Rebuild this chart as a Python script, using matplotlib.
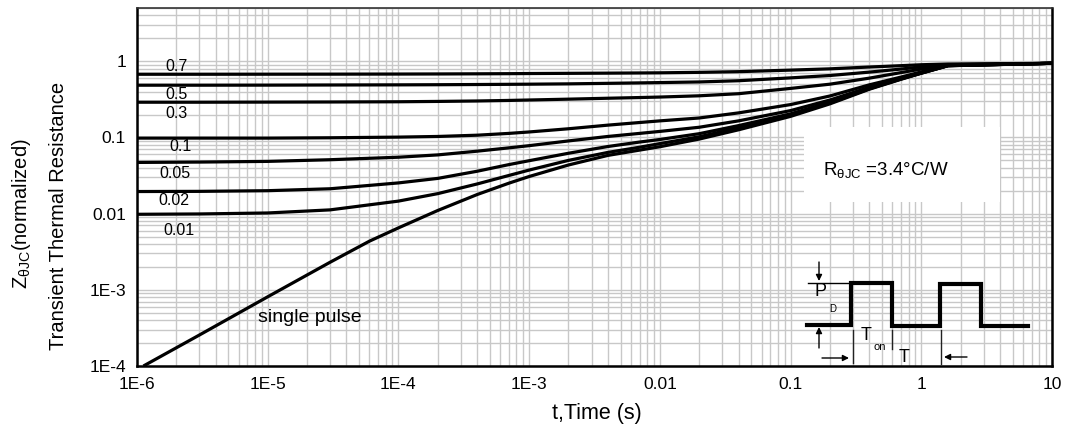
import numpy as np
import matplotlib
matplotlib.use('agg')
import matplotlib.pyplot as plt
from matplotlib.ticker import LogLocator, NullFormatter
from matplotlib.patches import Rectangle

plt.rcParams['font.family'] = ['Liberation Sans', 'DejaVu Sans']
plt.rcParams['mathtext.fontset'] = 'custom'
plt.rcParams['mathtext.rm'] = 'Liberation Sans'
plt.rcParams['mathtext.it'] = 'Liberation Sans:italic'

# pulse duration (s) where the duty-cycle curves were read
t_duty = [1e-6, 3e-6, 1e-5, 3e-5, 1e-4, 2e-4, 4e-4, 7e-4, 1e-3, 2e-3, 4e-3, 7e-3,
          1e-2, 2e-2, 4e-2, 0.1, 0.2, 0.4, 0.7, 1, 1.6, 10]

# normalized Zth for each duty cycle D
z_07 = [0.675, 0.675, 0.676, 0.677, 0.679, 0.681, 0.684, 0.687, 0.69, 0.694, 0.698, 0.702,
        0.705, 0.715, 0.73, 0.765, 0.795, 0.84, 0.875, 0.9, 0.92, 0.94]
z_05 = [0.485, 0.485, 0.486, 0.488, 0.49, 0.492, 0.495, 0.498, 0.50, 0.505, 0.513, 0.52,
        0.525, 0.535, 0.555, 0.605, 0.65, 0.72, 0.79, 0.845, 0.90, 0.94]
z_03 = [0.29, 0.29, 0.291, 0.292, 0.294, 0.297, 0.301, 0.306, 0.31, 0.318, 0.327, 0.334,
        0.339, 0.352, 0.375, 0.44, 0.50, 0.60, 0.71, 0.79, 0.89, 0.94]
z_01 = [0.098, 0.098, 0.098, 0.099, 0.101, 0.103, 0.107, 0.113, 0.118, 0.13, 0.145, 0.157,
        0.165, 0.18, 0.21, 0.27, 0.35, 0.49, 0.62, 0.725, 0.88, 0.94]
z_005 = [0.047, 0.0475, 0.0485, 0.051, 0.055, 0.059, 0.066, 0.073, 0.078, 0.09, 0.103, 0.113,
         0.12, 0.136, 0.165, 0.225, 0.31, 0.455, 0.60, 0.71, 0.878, 0.94]
z_002 = [0.0195, 0.0196, 0.020, 0.0212, 0.0253, 0.029, 0.036, 0.044, 0.0495, 0.062, 0.076, 0.087,
         0.094, 0.112, 0.143, 0.204, 0.29, 0.44, 0.59, 0.70, 0.876, 0.94]
z_001 = [0.0098, 0.0099, 0.0102, 0.0112, 0.0146, 0.0183, 0.0245, 0.0317, 0.0373, 0.050, 0.0636, 0.0744,
         0.083, 0.102, 0.134, 0.197, 0.283, 0.435, 0.585, 0.70, 0.875, 0.94]

# single pulse curve
t_single = [1.12e-6, 3e-6, 1e-5, 3e-5, 6e-5, 1e-4, 2e-4, 4e-4, 7e-4, 1e-3, 2e-3, 4e-3, 7e-3,
            1e-2, 2e-2, 4e-2, 0.1, 0.2, 0.4, 0.7, 1, 1.6, 10]
z_single = [1e-4, 2.55e-4, 8.1e-4, 2.3e-3, 4.35e-3, 6.5e-3, 0.011, 0.0178, 0.0251, 0.0307,
            0.0435, 0.0581, 0.0682, 0.0755, 0.0952, 0.126, 0.189, 0.276, 0.429, 0.58, 0.696,
            0.873, 0.94]

duty_curves = [z_07, z_05, z_03, z_01, z_005, z_002, z_001]
duty_names = ['0.7', '0.5', '0.3', '0.1', '0.05', '0.02', '0.01']
# label anchor positions (t, Z) as placed on the chart
duty_label_t = [2.0e-6, 2.0e-6, 2.0e-6, 2.15e-6, 1.95e-6, 1.9e-6, 2.1e-6]
duty_label_z = [0.86, 0.37, 0.207, 0.0764, 0.0337, 0.0149, 0.006]

x_ticks = [1e-6, 1e-5, 1e-4, 1e-3, 1e-2, 0.1, 1, 10]
x_ticklabels = ['1E-6', '1E-5', '1E-4', '1E-3', '0.01', '0.1', '1', '10']
y_ticks = [1e-4, 1e-3, 1e-2, 0.1, 1]
y_ticklabels = ['1E-4', '1E-3', '0.01', '0.1', '1']

W, H = 1071, 432
fig = plt.figure(figsize=(W / 100, H / 100), dpi=100)
ax = fig.add_axes([137 / W, 1 - 366 / H, (1052 - 137) / W, (366 - 8) / H])
ax.set_xscale('log')
ax.set_yscale('log')
ax.set_xlim(1e-6, 10)
ax.set_ylim(1e-4, 5)

ax.xaxis.set_minor_locator(LogLocator(base=10, subs=np.arange(2, 10), numticks=100))
ax.yaxis.set_minor_locator(LogLocator(base=10, subs=np.arange(2, 10), numticks=100))
ax.xaxis.set_minor_formatter(NullFormatter())
ax.yaxis.set_minor_formatter(NullFormatter())
ax.set_xticks(x_ticks)
ax.set_xticklabels(x_ticklabels)
ax.set_yticks(y_ticks)
ax.set_yticklabels(y_ticklabels)
ax.tick_params(which='both', length=0, labelsize=12.5, pad=8)
ax.set_axisbelow(True)
ax.grid(True, which='both', color='#c8c8c8', lw=1.0)

for sp in ['left', 'bottom', 'right']:
    ax.spines[sp].set_linewidth(1.8)
    ax.spines[sp].set_color('black')
ax.spines['top'].set_linewidth(1.2)
ax.spines['top'].set_color('#333333')

for z in duty_curves:
    ax.plot(t_duty, z, color='black', lw=2.3, solid_capstyle='butt', solid_joinstyle='round')
ax.plot(t_single, z_single, color='black', lw=2.3, solid_capstyle='butt', solid_joinstyle='round')

for name, lt, lz in zip(duty_names, duty_label_t, duty_label_z):
    ax.text(lt, lz, name, fontsize=11.5, ha='center', va='center')
ax.text(2.1e-5, 4.3e-4, 'single pulse', fontsize=14, ha='center', va='center')

# R theta box
ax.add_patch(Rectangle((0.729, 0.458), 0.214, 0.21, transform=ax.transAxes,
                       facecolor='white', edgecolor='none', zorder=1))
ax.text(0.75, 0.548, r'R$_{\mathregular{θJC}}$ =3.4°C/W', transform=ax.transAxes,
        fontsize=13.5, ha='left', va='center', zorder=3)

# axis labels
fig.text(597 / W, 1 - 413 / H, 't,Time (s)', fontsize=15.5, ha='center', va='center')
fig.text(22 / W, 1 - 214 / H, r'Z$_{\mathregular{θJC}}$(normalized)', fontsize=14.5,
         rotation=90, ha='center', va='center')
fig.text(59 / W, 1 - 216 / H, 'Transient Thermal Resistance', fontsize=14.5,
         rotation=90, ha='center', va='center')

# pulse train sketch, drawn in figure pixel units
ov = fig.add_axes([0, 0, 1, 1], zorder=5)
ov.set_xlim(0, W)
ov.set_ylim(H, 0)
ov.axis('off')
ov.patch.set_alpha(0)

px = [807, 851, 851, 892, 892, 940, 940, 981, 981, 1028]
py = [325, 325, 283, 283, 326, 326, 284, 284, 326, 326]
ov.plot(px, py, color='black', lw=3.0, solid_joinstyle='miter')
ov.plot([808, 849], [282.7, 282.7], color='black', lw=1.0)
ov.plot([852.5, 852.5], [330, 363], color='#222222', lw=1.0)
ov.plot([891.5, 891.5], [330, 349], color='#222222', lw=1.0)
ov.plot([941, 941], [330, 364], color='#222222', lw=1.0)
arr = dict(arrowstyle='-|>', color='black', lw=1.0, mutation_scale=9, shrinkA=0, shrinkB=0)
ov.annotate('', xy=(819, 281), xytext=(819, 262), arrowprops=arr)
ov.annotate('', xy=(819, 327), xytext=(819, 348), arrowprops=arr)
ov.annotate('', xy=(849, 358), xytext=(822, 358), arrowprops=arr)
ov.annotate('', xy=(944, 357), xytext=(967, 357), arrowprops=arr)
ov.text(821, 292, 'P', fontsize=13, ha='center', va='center')
ov.text(833, 309, 'D', fontsize=7, ha='center', va='center')
ov.text(866, 335, 'T', fontsize=13, ha='center', va='center')
ov.text(880, 347, 'on', fontsize=8, ha='center', va='center')
ov.text(904, 357, 'T', fontsize=13, ha='center', va='center')

fig.savefig('out.png', dpi=100)
